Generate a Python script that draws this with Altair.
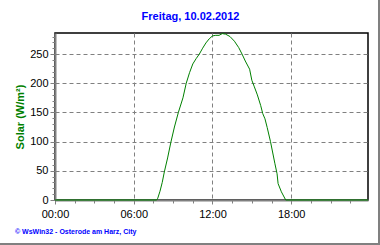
import altair as alt
import pandas as pd

# Data (time in hours, solar radiation W/m²)
hours = [0, 7.75, 7.83, 8.0, 8.17, 8.33, 8.58, 8.83, 9.1, 9.4, 9.75, 10.0, 10.25, 10.5,
         10.75, 11.0, 11.25, 11.5, 11.75, 12.0, 12.25, 12.5, 12.75, 13.0, 13.33, 13.67,
         14.0, 14.25, 14.5, 14.83, 15.0, 15.17, 15.42, 15.67, 15.83, 16.0, 16.17, 16.42,
         16.75, 16.92, 17.0, 17.25, 17.58, 23.85]
solar = [0, 0, 3, 15, 30, 48, 72, 99, 125, 150, 175, 200, 218, 233,
         242, 250, 260, 269, 276, 281, 282, 282, 285, 284, 280, 272,
         261, 250, 238, 224, 205, 195, 180, 162, 148, 139, 124, 100,
         63, 45, 28, 14, 0, 0]

title_text = ["Freitag, 10.02.2012"]
y_title = "Solar (W/m²)"
footer_text = ["© WsWin32  -  Osterode am Harz, City"]

x_ticks = [0, 1.5, 3, 4.5, 6, 7.5, 9, 10.5, 12, 13.5, 15, 16.5, 18, 19.5, 21, 22.5]
y_ticks = list(range(0, 290, 10))

W, H = 313, 167

df = pd.DataFrame({"h": hours, "v": solar})

line = alt.Chart(df).mark_line(color="#008000", strokeWidth=1).encode(
    x=alt.X("h:Q", scale=alt.Scale(domain=[0, 23.85], nice=False, zero=False),
            axis=alt.Axis(
                values=x_ticks, title=None, zindex=0,
                labelExpr="datum.value % 6 === 0 ? ((datum.value < 10 ? '0' : '') + datum.value + ':00') : ''",
                domainColor="#808080", domainWidth=2,
                tickColor="#808080",
                tickSize={"condition": {"test": "datum.value % 6 === 0", "value": 4}, "value": 3},
                gridColor="#808080", gridDash=[4, 3],
                gridOpacity={"condition": {"test": "datum.value % 6 === 0 && datum.value > 0", "value": 1}, "value": 0},
                labelFont="Liberation Sans", labelFontSize=11, labelColor="#000000",
                labelPadding=4, labelFlush=False, labelOverlap=False)),
    y=alt.Y("v:Q", scale=alt.Scale(domain=[0, 286], nice=False),
            axis=alt.Axis(
                values=y_ticks, title=y_title, zindex=0,
                labelExpr="datum.value % 50 === 0 ? datum.value : ''",
                domainColor="#808080", domainWidth=2,
                tickColor="#808080",
                tickSize={"condition": {"test": "datum.value % 50 === 0", "value": 5}, "value": 3},
                gridColor="#808080", gridDash=[4, 3],
                gridOpacity={"condition": {"test": "datum.value % 50 === 0 && datum.value > 0", "value": 1}, "value": 0},
                labelFont="Liberation Sans", labelFontSize=11, labelColor="#000000",
                labelPadding=2, labelOverlap=False, labelFlush=False,
                titleColor="#008000", titleFont="Liberation Sans", titleFontSize=11,
                titleFontWeight="bold", titlePadding=4)),
)

title = alt.Chart(pd.DataFrame({"t": title_text})).mark_text(
    align="center", baseline="middle", fontSize=11, fontWeight="bold",
    font="Liberation Sans", color="#0000ff"
).encode(x=alt.value(W / 2 - 21), y=alt.value(-16), text="t:N")

footer = alt.Chart(pd.DataFrame({"t": footer_text})).mark_text(
    align="left", baseline="middle", fontSize=7, fontWeight="bold",
    font="Liberation Sans", color="#0000ff"
).encode(x=alt.value(-40), y=alt.value(H + 32), text="t:N")

# outer frame (right and bottom grey edges)
frame_r = alt.Chart(pd.DataFrame({"a": [0]})).mark_rule(color="#808080", strokeWidth=2).encode(
    x=alt.value(W + 11), y=alt.value(-33), y2=alt.value(H + 45))
frame_b = alt.Chart(pd.DataFrame({"a": [0]})).mark_rule(color="#808080", strokeWidth=2).encode(
    x=alt.value(-55), x2=alt.value(W + 12), y=alt.value(H + 44))

chart = alt.layer(line, title, footer, frame_r, frame_b).properties(
    width=W, height=H,
    autosize=alt.AutoSizeParams(type="none"),
    padding={"left": 55, "top": 33, "right": 12, "bottom": 45},
    background="white",
).configure_view(stroke="#000000", strokeWidth=1.5)

chart.save("out.html", embed_options={"renderer": "svg", "actions": False})
